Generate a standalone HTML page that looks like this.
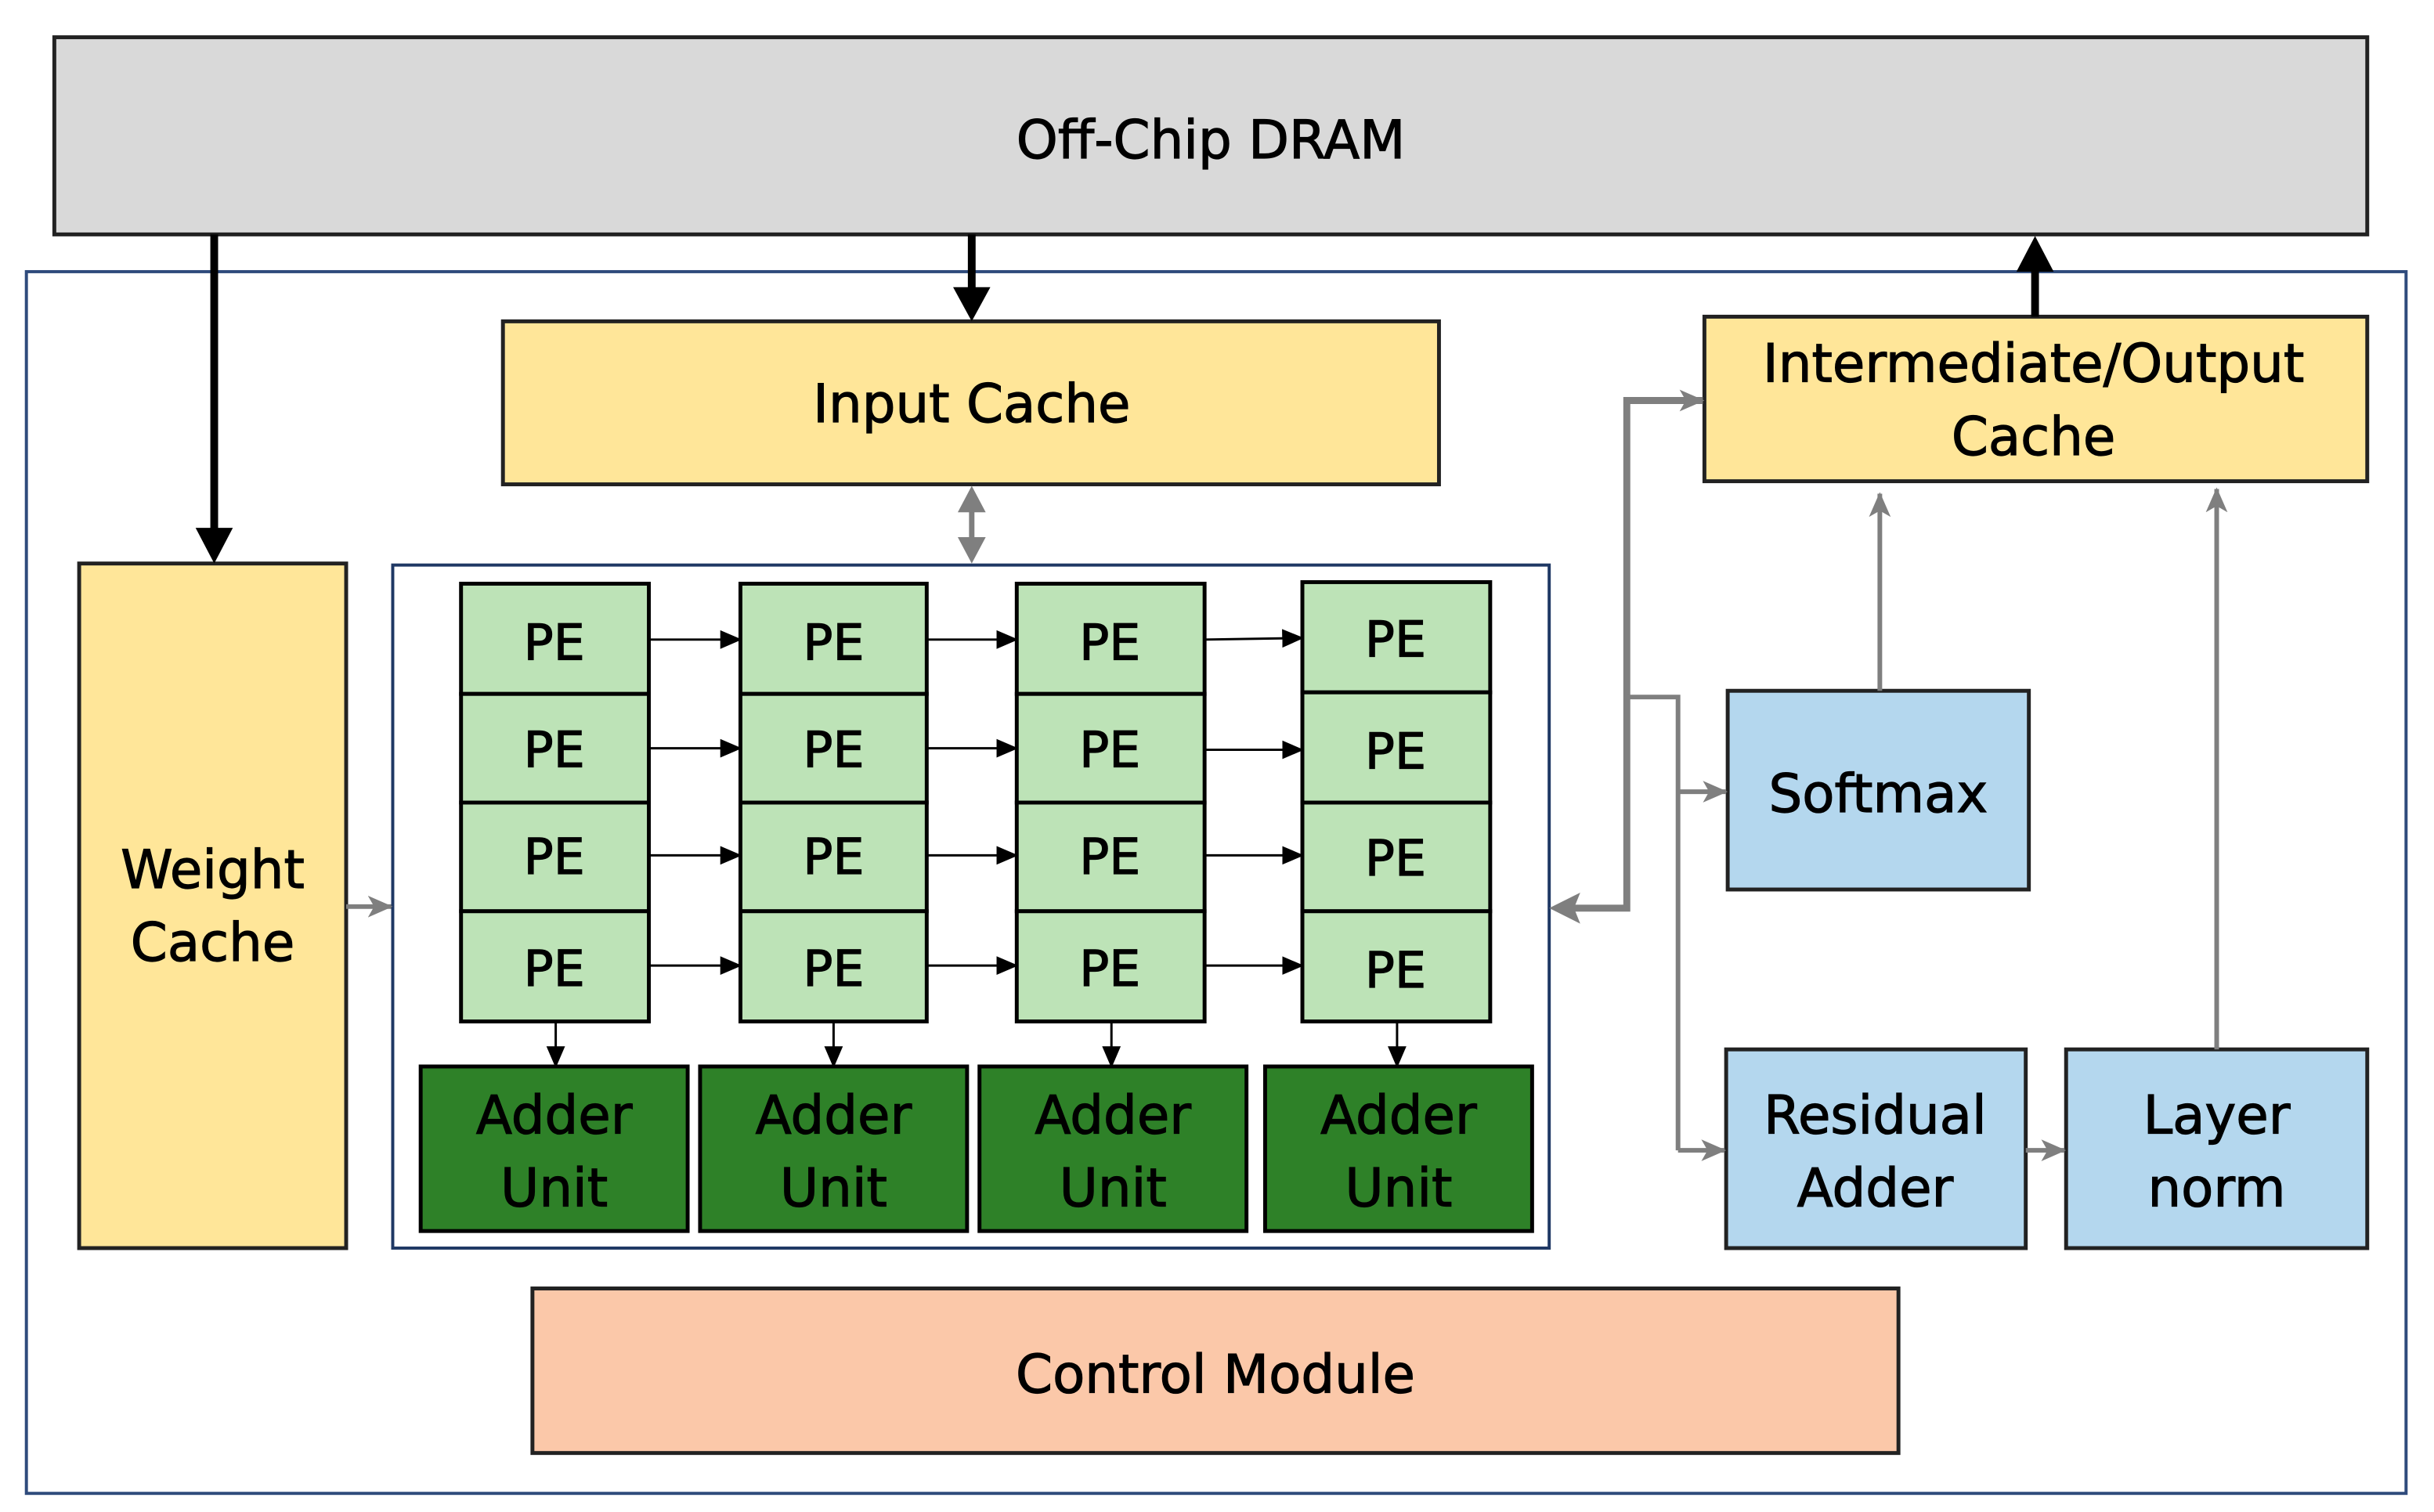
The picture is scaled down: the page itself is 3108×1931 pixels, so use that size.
<!DOCTYPE html>
<html><head><style>
html,body{margin:0;padding:0;background:#fff;}
svg{display:block;}
text{font-family:"DejaVu Sans","Liberation Sans",sans-serif;fill:#000;text-anchor:middle;stroke:#000;stroke-width:0.6;}
</style></head><body>
<svg width="3108" height="1931" viewBox="0 0 1568 974" preserveAspectRatio="none" xmlns="http://www.w3.org/2000/svg">
<defs>
<marker id="at" markerWidth="14" markerHeight="14" refX="13" refY="7" orient="auto" markerUnits="userSpaceOnUse"><path d="M0,1 L14,7 L0,13 z" fill="#000"/></marker>
<marker id="ag" markerWidth="16" markerHeight="14" refX="15" refY="7" orient="auto" markerUnits="userSpaceOnUse"><path d="M0,0 L16,7 L0,14 L4,7 z" fill="#7f7f7f"/></marker>
</defs>
<rect x="35" y="24" width="1490" height="127" fill="#d9d9d9" stroke="#222" stroke-width="2.5"/>
<text x="780" y="102" font-size="34">Off-Chip DRAM</text>
<rect x="17" y="175" width="1533" height="787" fill="none" stroke="#2f4b7c" stroke-width="2"/>
<rect x="324" y="207" width="603" height="105" fill="#ffe699" stroke="#222" stroke-width="2.5"/>
<text x="626" y="272" font-size="34">Input Cache</text>
<rect x="1098" y="204" width="427" height="106" fill="#ffe699" stroke="#222" stroke-width="2.5"/>
<text x="1310" y="246" font-size="34">Intermediate/Output</text>
<text x="1310" y="293" font-size="34">Cache</text>
<rect x="51" y="363" width="172" height="441" fill="#ffe699" stroke="#222" stroke-width="2.5"/>
<text x="137" y="572" font-size="34">Weight</text>
<text x="137" y="619" font-size="34">Cache</text>
<rect x="253" y="364" width="745" height="440" fill="#fff" stroke="#1f3864" stroke-width="2"/>
<g stroke="#000" stroke-width="2.5" fill="#bde3b7">
<rect x="297" y="376" width="121" height="71"/><rect x="297" y="447" width="121" height="70"/><rect x="297" y="517" width="121" height="70"/><rect x="297" y="587" width="121" height="71"/>
<rect x="477" y="376" width="120" height="71"/><rect x="477" y="447" width="120" height="70"/><rect x="477" y="517" width="120" height="70"/><rect x="477" y="587" width="120" height="71"/>
<rect x="655" y="376" width="121" height="71"/><rect x="655" y="447" width="121" height="70"/><rect x="655" y="517" width="121" height="70"/><rect x="655" y="587" width="121" height="71"/>
<rect x="839" y="375" width="121" height="71"/><rect x="839" y="446" width="121" height="71"/><rect x="839" y="517" width="121" height="70"/><rect x="839" y="587" width="121" height="71"/>
</g>
<g font-size="32">
<text x="357" y="425">PE</text><text x="357" y="494">PE</text><text x="357" y="563">PE</text><text x="357" y="635">PE</text>
<text x="537" y="425">PE</text><text x="537" y="494">PE</text><text x="537" y="563">PE</text><text x="537" y="635">PE</text>
<text x="715" y="425">PE</text><text x="715" y="494">PE</text><text x="715" y="563">PE</text><text x="715" y="635">PE</text>
<text x="899" y="423">PE</text><text x="899" y="495">PE</text><text x="899" y="564">PE</text><text x="899" y="636">PE</text>
</g>
<g stroke="#000" stroke-width="1.5" marker-end="url(#at)">
<line x1="418" y1="412" x2="477" y2="412"/><line x1="418" y1="482" x2="477" y2="482"/><line x1="418" y1="551" x2="477" y2="551"/><line x1="418" y1="622" x2="477" y2="622"/>
<line x1="597" y1="412" x2="655" y2="412"/><line x1="597" y1="482" x2="655" y2="482"/><line x1="597" y1="551" x2="655" y2="551"/><line x1="597" y1="622" x2="655" y2="622"/>
<line x1="776" y1="412" x2="839" y2="411"/><line x1="776" y1="483" x2="839" y2="483"/><line x1="776" y1="551" x2="839" y2="551"/><line x1="776" y1="622" x2="839" y2="622"/>
<line x1="358" y1="658" x2="358" y2="687"/><line x1="537" y1="658" x2="537" y2="687"/><line x1="716" y1="658" x2="716" y2="687"/><line x1="900" y1="658" x2="900" y2="687"/>
</g>
<g stroke="#000" stroke-width="2.5" fill="#2e8128">
<rect x="271" y="687" width="172" height="106"/><rect x="451" y="687" width="172" height="106"/><rect x="631" y="687" width="172" height="106"/><rect x="815" y="687" width="172" height="106"/>
</g>
<g font-size="34">
<text x="357" y="730">Adder</text><text x="357" y="777">Unit</text>
<text x="537" y="730">Adder</text><text x="537" y="777">Unit</text>
<text x="717" y="730">Adder</text><text x="717" y="777">Unit</text>
<text x="901" y="730">Adder</text><text x="901" y="777">Unit</text>
</g>
<rect x="1113" y="445" width="194" height="128" fill="#b4d7ee" stroke="#222" stroke-width="2.5"/>
<text x="1210" y="523" font-size="34">Softmax</text>
<rect x="1112" y="676" width="193" height="128" fill="#b4d7ee" stroke="#222" stroke-width="2.5"/>
<text x="1208" y="730" font-size="34">Residual</text><text x="1208" y="777" font-size="34">Adder</text>
<rect x="1331" y="676" width="194" height="128" fill="#b4d7ee" stroke="#222" stroke-width="2.5"/>
<text x="1428" y="730" font-size="34">Layer</text><text x="1428" y="777" font-size="34">norm</text>
<rect x="343" y="830" width="880" height="106" fill="#fbc8a9" stroke="#222" stroke-width="2.5"/>
<text x="783" y="897" font-size="34">Control Module</text>
<g stroke="#000" stroke-width="5">
<line x1="138" y1="151" x2="138" y2="345"/><line x1="626" y1="151" x2="626" y2="190"/><line x1="1311" y1="204" x2="1311" y2="170"/>
</g>
<g fill="#000">
<path d="M126,340 L150,340 L138,363 z"/><path d="M614,185 L638,185 L626,207 z"/><path d="M1299,175 L1323,175 L1311,152 z"/>
</g>
<g stroke="#7f7f7f" fill="none">
<line x1="626" y1="325" x2="626" y2="351" stroke-width="3.5"/>
<line x1="223" y1="584" x2="252" y2="584" stroke-width="3" marker-end="url(#ag)"/>
<polyline points="1012,585 1048,585 1048,258 1097,258" stroke-width="4.5" marker-end="url(#ag)"/>
<polyline points="1048,449 1081,449 1081,741" stroke-width="3"/>
<line x1="1081" y1="510" x2="1112" y2="510" stroke-width="3" marker-end="url(#ag)"/>
<line x1="1081" y1="741" x2="1111" y2="741" stroke-width="3" marker-end="url(#ag)"/>
<line x1="1211" y1="445" x2="1211" y2="318" stroke-width="3" marker-end="url(#ag)"/>
<line x1="1428" y1="676" x2="1428" y2="315" stroke-width="3" marker-end="url(#ag)"/>
<line x1="1305" y1="741" x2="1330" y2="741" stroke-width="3" marker-end="url(#ag)"/>
</g>
<g fill="#7f7f7f">
<path d="M998,585 L1018,575 L1014,585 L1018,595 z"/>
<path d="M617,330 L626,313 L635,330 z"/><path d="M617,346 L626,363 L635,346 z"/>
</g>
</svg>
</body></html>
